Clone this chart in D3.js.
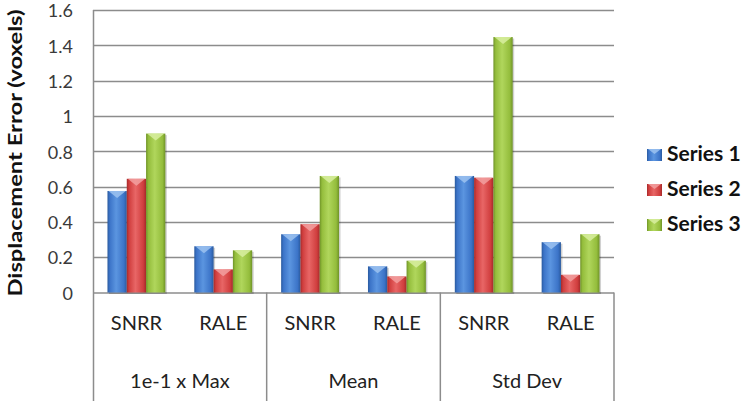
<!DOCTYPE html>
<html>
<head>
<meta charset="utf-8">
<script src="https://cdn.jsdelivr.net/npm/d3@7"></script>
<style>
  html, body { margin: 0; padding: 0; background: #fff; }
  svg { display: block; font-family: Lato, "Open Sans", sans-serif; }
</style>
</head>
<body>
<svg id="chart" width="750" height="401"></svg>
<script>
const groups = ["1e-1 x Max", "Mean", "Std Dev"];
const methods = ["SNRR", "RALE"];
const seriesNames = ["Series 1", "Series 2", "Series 3"];
const series1 = [0.575, 0.262, 0.33, 0.148, 0.66, 0.285];
const series2 = [0.644, 0.131, 0.387, 0.091, 0.65, 0.10];
const series3 = [0.90, 0.239, 0.66, 0.18, 1.447, 0.33];
const yTicks = [0, 0.2, 0.4, 0.6, 0.8, 1, 1.2, 1.4, 1.6];
const yTitle = "Displacement Error (voxels)";

(function () {
const seriesValues = [series1, series2, series3];
const colors = [
  {dark: "#2a5a9e", mid: "#3c74c8", light: "#5b95e0", top: "#9cc2f0"},
  {dark: "#a52a2a", mid: "#d03e3e", light: "#e86666", top: "#f2a0a0"},
  {dark: "#6f9328", mid: "#94bd3c", light: "#b0d65c", top: "#d8eea0"}
];

const svg = d3.select("#chart");
const pLeft = 93, pRight = 614, pTop = 10, pBottom = 292.5;

const cats = [];
groups.forEach(g => methods.forEach(m => cats.push(g + "|" + m)));

const xGroup = d3.scaleBand().domain(groups).range([pLeft, pRight]);
const x0 = d3.scaleBand().domain(cats).range([pLeft, pRight]);
const x1 = d3.scaleBand().domain(seriesNames).range([0, x0.bandwidth()]).paddingOuter(0.75).paddingInner(0);
const y = d3.scaleLinear().domain([0, 1.6]).range([pBottom, pTop]);

const defs = svg.append("defs");
colors.forEach((c, i) => {
  const lg = defs.append("linearGradient").attr("id", "g" + i).attr("x1", "0").attr("x2", "1").attr("y1", "0").attr("y2", "0");
  lg.append("stop").attr("offset", "0").attr("stop-color", c.dark);
  lg.append("stop").attr("offset", "0.12").attr("stop-color", c.mid);
  lg.append("stop").attr("offset", "0.45").attr("stop-color", c.light);
  lg.append("stop").attr("offset", "0.85").attr("stop-color", c.mid);
  lg.append("stop").attr("offset", "1").attr("stop-color", c.dark);
});

svg.append("g").selectAll("line").data(yTicks.filter(d => d > 0)).join("line")
  .attr("x1", pLeft).attr("x2", pRight)
  .attr("y1", d => Math.round(y(d)) + 0.5).attr("y2", d => Math.round(y(d)) + 0.5)
  .attr("stroke", "#8c8c8c").attr("stroke-width", 1.5);

const yAxis = d3.axisLeft(y).tickValues(yTicks).tickSize(0).tickPadding(0).tickFormat(d => String(d));
const yg = svg.append("g").attr("transform", `translate(73,1)`).call(yAxis);
yg.select(".domain").remove();
yg.selectAll("text").attr("font-size", 18).attr("fill", "#3a3a3a").attr("font-family", "Lato, sans-serif");

svg.append("line").attr("x1", pLeft + 0.5).attr("x2", pLeft + 0.5).attr("y1", pTop).attr("y2", 401)
  .attr("stroke", "#8c8c8c").attr("stroke-width", 1.5);
svg.append("line").attr("x1", pLeft).attr("x2", pRight).attr("y1", pBottom + 0.5).attr("y2", pBottom + 0.5)
  .attr("stroke", "#8c8c8c").attr("stroke-width", 1.5);
svg.append("g").selectAll("line").data(groups).join("line")
  .attr("x1", d => xGroup(d) + xGroup.bandwidth()).attr("x2", d => xGroup(d) + xGroup.bandwidth())
  .attr("y1", pBottom).attr("y2", 401)
  .attr("stroke", "#8c8c8c").attr("stroke-width", 1.5);

const barData = [];
cats.forEach((c, ci) => seriesNames.forEach((s, si) => barData.push({c, s, si, v: seriesValues[si][ci]})));
const bars = svg.append("g").selectAll("g").data(barData).join("g")
  .attr("transform", d => `translate(${x0(d.c) + x1(d.s)},0)`);
bars.append("rect")
  .attr("x", 1.5).attr("y", d => y(d.v) + 1.5)
  .attr("width", x1.bandwidth()).attr("height", d => pBottom - y(d.v))
  .attr("fill", "rgba(0,0,0,0.18)");
bars.append("rect")
  .attr("x", 0).attr("y", d => y(d.v))
  .attr("width", x1.bandwidth()).attr("height", d => pBottom - y(d.v))
  .attr("fill", d => `url(#g${d.si})`);
bars.append("polygon")
  .attr("points", d => {
    const w = x1.bandwidth(), t = y(d.v);
    return `${1},${t} ${w - 1},${t} ${w / 2},${t + 7}`;
  })
  .attr("fill", d => colors[d.si].top).attr("opacity", 0.85);

svg.append("g").selectAll("text").data(cats).join("text")
  .attr("x", d => x0(d) + x0.bandwidth() / 2).attr("y", 330)
  .attr("text-anchor", "middle").attr("font-size", 20).attr("fill", "#222")
  .text(d => d.split("|")[1]);
svg.append("g").selectAll("text").data(groups).join("text")
  .attr("x", d => xGroup(d) + xGroup.bandwidth() / 2).attr("y", 388)
  .attr("text-anchor", "middle").attr("font-size", 20).attr("fill", "#222")
  .text(d => d);

svg.append("text")
  .attr("transform", "translate(22,153) rotate(-90)")
  .attr("text-anchor", "middle").attr("font-size", 19).attr("font-weight", "bold").attr("fill", "#111")
  .attr("textLength", 287).attr("lengthAdjust", "spacingAndGlyphs")
  .text(yTitle);

const lg = svg.append("g").selectAll("g").data(seriesNames).join("g")
  .attr("transform", (d, i) => `translate(647,${154 + i * 35})`);
lg.append("rect").attr("x", 0).attr("y", -5).attr("width", 15).attr("height", 12)
  .attr("fill", (d, i) => `url(#g${i})`);
lg.append("polygon").attr("points", "1,-5 14,-5 7.5,0").attr("fill", (d, i) => colors[i].top).attr("opacity", 0.85);
lg.append("text").attr("x", 20).attr("y", 7).attr("font-size", 21).attr("font-weight", "bold").attr("fill", "#111")
  .text(d => d);
})();
</script>
</body>
</html>
